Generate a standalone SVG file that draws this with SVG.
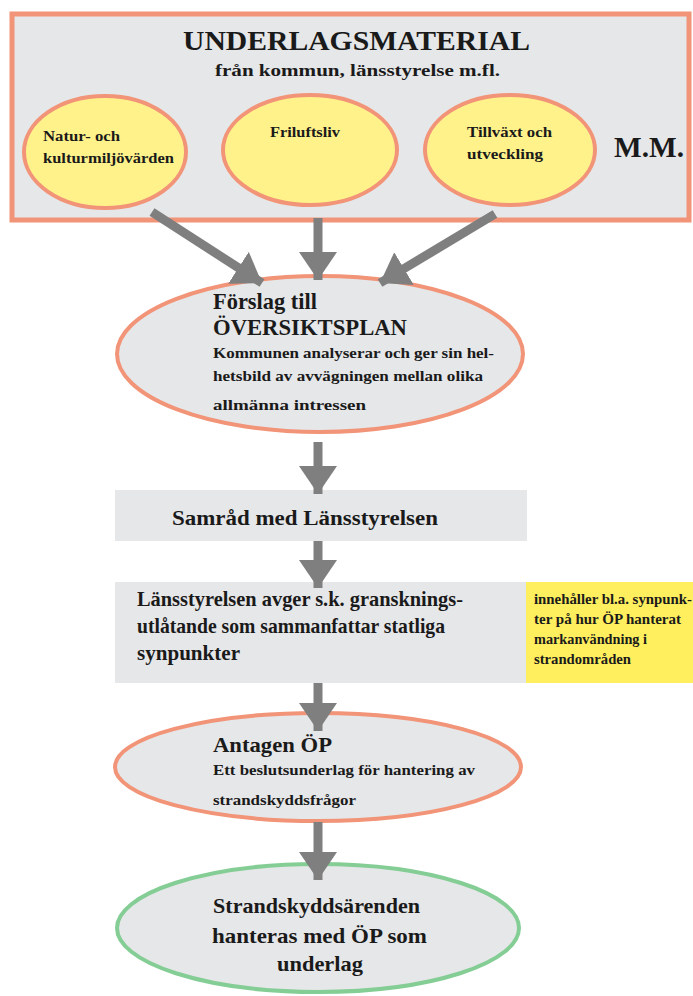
<svg xmlns="http://www.w3.org/2000/svg" width="693" height="996" viewBox="0 0 693 996">
<style>
text{font-family:"Liberation Serif","Times New Roman",serif;font-weight:bold;fill:#1a1a1a}
.box{fill:#E6E7E9}
.salmon{stroke:#F29478;stroke-width:4}
.yel{fill:#FFF28A}
.conn line{stroke:#7F7F7F;stroke-width:9;marker-end:url(#ah)}
</style>
<defs>
<marker id="ah" markerUnits="userSpaceOnUse" markerWidth="30" markerHeight="38" refX="28" refY="19" orient="auto">
<path d="M0,0 L28,19 L0,38 z" fill="#7F7F7F"/>
</marker>
</defs>
<rect width="693" height="996" fill="#fff"/>
<g id="underlag">
<rect x="12" y="14" width="677" height="206" class="box" stroke="#F29478" stroke-width="5"/>
<text x="183" y="50" font-size="27" textLength="347" lengthAdjust="spacingAndGlyphs">UNDERLAGSMATERIAL</text>
<text x="215" y="76" font-size="17" textLength="285" lengthAdjust="spacingAndGlyphs">från kommun, länsstyrelse m.fl.</text>
<text x="614" y="157" font-size="29" textLength="70" lengthAdjust="spacingAndGlyphs">M.M.</text>
</g>
<g id="natur">
<ellipse cx="105" cy="152" rx="81" ry="56" class="yel salmon"/>
<text x="43" y="141" font-size="15" textLength="77" lengthAdjust="spacingAndGlyphs">Natur- och</text>
<text x="43" y="163" font-size="15" textLength="131" lengthAdjust="spacingAndGlyphs">kulturmiljövärden</text>
</g>
<g id="friluftsliv">
<ellipse cx="310" cy="150" rx="87" ry="55" class="yel salmon"/>
<text x="270" y="137" font-size="15" textLength="70" lengthAdjust="spacingAndGlyphs">Friluftsliv</text>
</g>
<g id="tillvaxt">
<ellipse cx="510" cy="150" rx="85" ry="55" class="yel salmon"/>
<text x="467" y="137" font-size="15" textLength="85" lengthAdjust="spacingAndGlyphs">Tillväxt och</text>
<text x="467" y="159" font-size="15" textLength="76" lengthAdjust="spacingAndGlyphs">utveckling</text>
</g>
<g id="forslag">
<ellipse cx="320" cy="354" rx="203" ry="78" class="box salmon"/>
<text x="213" y="309" font-size="24" textLength="104" lengthAdjust="spacingAndGlyphs">Förslag till</text>
<text x="213" y="335" font-size="24" textLength="194" lengthAdjust="spacingAndGlyphs">ÖVERSIKTSPLAN</text>
<text x="213" y="358" font-size="15.5" textLength="281" lengthAdjust="spacingAndGlyphs">Kommunen analyserar och ger sin hel-</text>
<text x="213" y="381" font-size="15.5" textLength="270" lengthAdjust="spacingAndGlyphs">hetsbild av avvägningen mellan olika</text>
<text x="213" y="410" font-size="15.5" textLength="153" lengthAdjust="spacingAndGlyphs">allmänna intressen</text>
</g>
<g id="samrad">
<rect x="115" y="490" width="412" height="51" class="box"/>
<text x="172" y="525" font-size="20" textLength="266" lengthAdjust="spacingAndGlyphs">Samråd med Länsstyrelsen</text>
</g>
<g id="granskning">
<rect x="115" y="582" width="412" height="101" class="box"/>
<text x="137" y="606" font-size="21" textLength="326" lengthAdjust="spacingAndGlyphs">Länsstyrelsen avger s.k. gransknings-</text>
<text x="137" y="633" font-size="21" textLength="308" lengthAdjust="spacingAndGlyphs">utlåtande som sammanfattar statliga</text>
<text x="137" y="660" font-size="21" textLength="103" lengthAdjust="spacingAndGlyphs">synpunkter</text>
</g>
<g id="note">
<rect x="526" y="582" width="167" height="101" fill="#FFEF5E"/>
<text x="534" y="604" font-size="14" textLength="158" lengthAdjust="spacingAndGlyphs">innehåller bl.a. synpunk-</text>
<text x="534" y="624" font-size="14" textLength="147" lengthAdjust="spacingAndGlyphs">ter på hur ÖP hanterat</text>
<text x="534" y="644" font-size="14" textLength="113" lengthAdjust="spacingAndGlyphs">markanvändning i</text>
<text x="534" y="664" font-size="14" textLength="97" lengthAdjust="spacingAndGlyphs">strandområden</text>
</g>
<g id="antagen">
<ellipse cx="318" cy="767" rx="203" ry="54" class="box salmon"/>
<text x="213" y="752" font-size="22" textLength="119" lengthAdjust="spacingAndGlyphs">Antagen ÖP</text>
<text x="213" y="775" font-size="15" textLength="262" lengthAdjust="spacingAndGlyphs">Ett beslutsunderlag för hantering av</text>
<text x="213" y="805" font-size="15" textLength="143" lengthAdjust="spacingAndGlyphs">strandskyddsfrågor</text>
</g>
<g id="strandskydd">
<ellipse cx="318" cy="928" rx="201" ry="64" class="box" stroke="#84CD95" stroke-width="4"/>
<text x="213" y="913" font-size="22" textLength="207" lengthAdjust="spacingAndGlyphs">Strandskyddsärenden</text>
<text x="212" y="943" font-size="22" textLength="215" lengthAdjust="spacingAndGlyphs">hanteras med ÖP som</text>
<text x="277" y="971" font-size="22" textLength="86" lengthAdjust="spacingAndGlyphs">underlag</text>
</g>
<g id="connectors" class="conn">
<line x1="152" y1="212" x2="262" y2="283"/>
<line x1="318" y1="218" x2="318" y2="280"/>
<line x1="495" y1="214" x2="380" y2="283"/>
<line x1="318" y1="442" x2="318" y2="494"/>
<line x1="318" y1="541" x2="318" y2="588"/>
<line x1="318" y1="683" x2="318" y2="731"/>
<line x1="318" y1="822" x2="318" y2="880"/>
</g>
</svg>
